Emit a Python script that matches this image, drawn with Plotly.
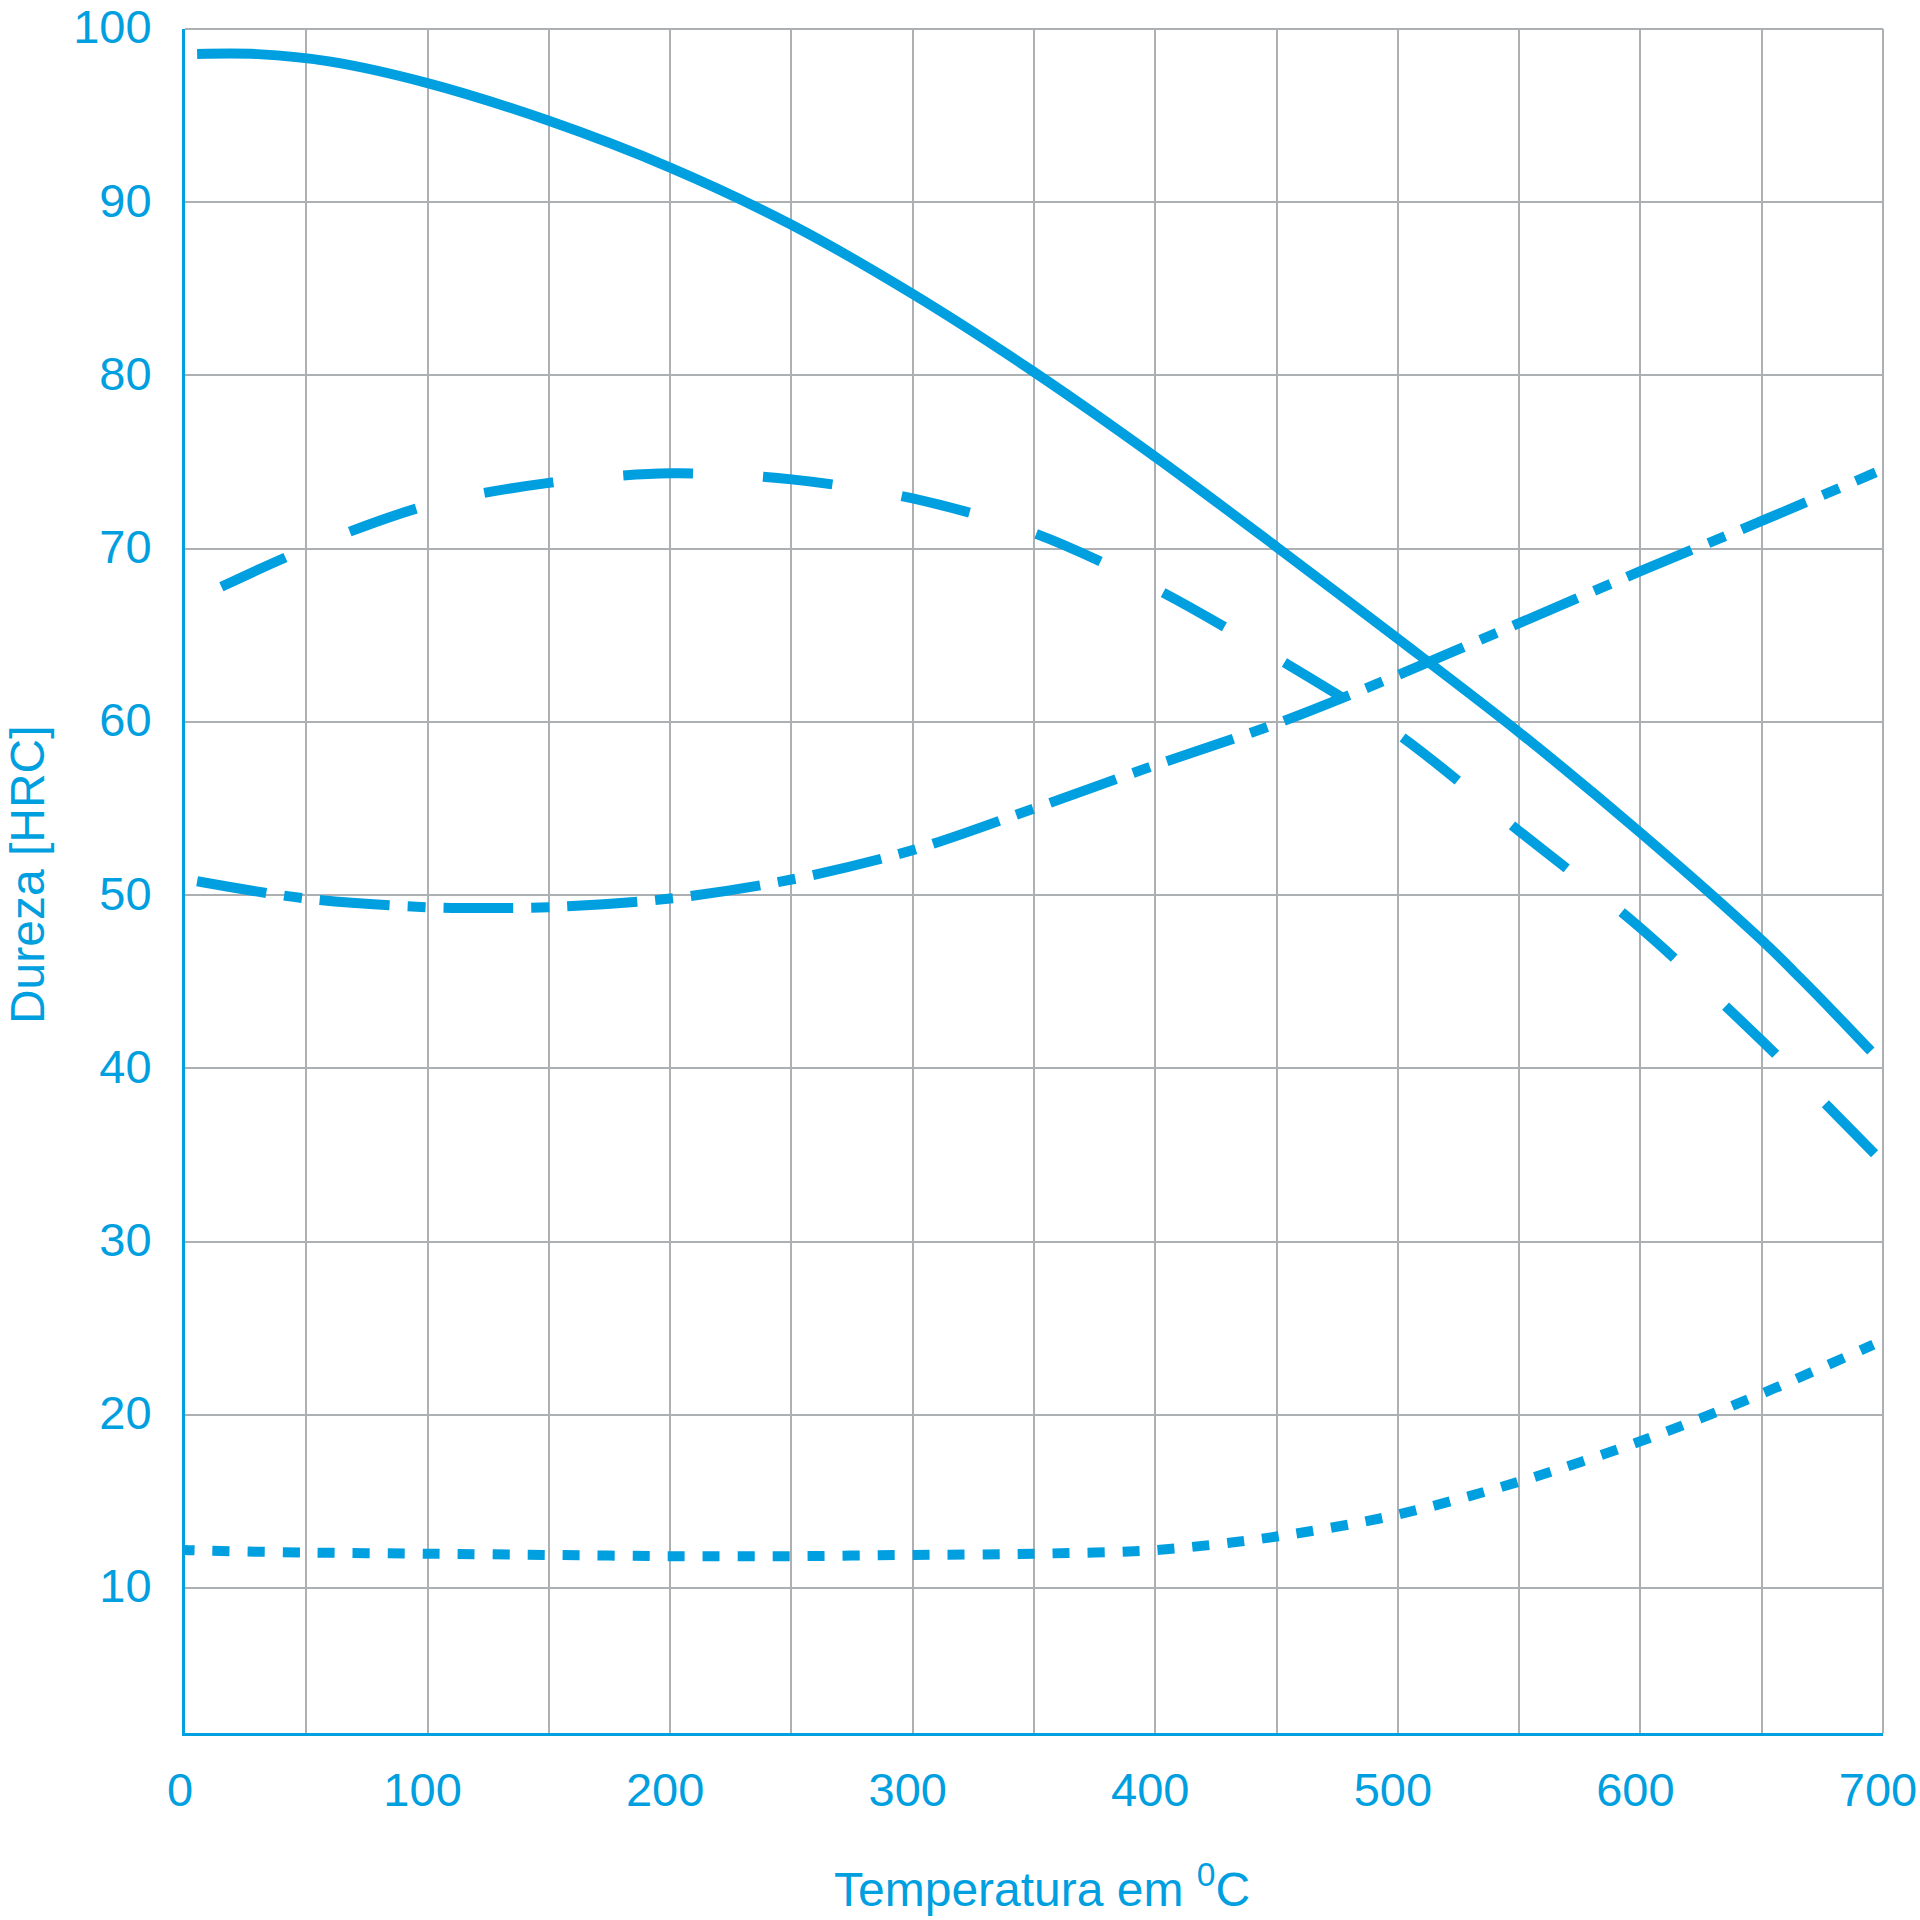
import plotly.graph_objects as go

BLUE = "#009FDF"
GRID = "#ADB0B3"
FONT = "Liberation Sans, Arial, sans-serif"

# Solid curve
solid_x = [5, 30, 60, 100, 150, 200, 250, 300, 350, 400, 450, 500, 550, 600, 650, 666, 680, 695]
solid_y = [98.56, 98.55, 98.12, 96.88, 94.7, 92.0, 88.7, 84.7, 80.2, 75.3, 70.1, 64.8, 59.4, 53.6, 47.4, 45.2, 43.2, 41.0]

# Long-dashed curve
dash_x = [15, 50, 100, 150, 200, 250, 300, 350, 400, 450, 500, 550, 600, 650, 697]
dash_y = [67.8, 70.0, 72.5, 73.8, 74.35, 74.0, 72.9, 70.9, 67.7, 63.7, 59.3, 53.7, 48.1, 41.6, 35.0]

# Dash-dot curve
dashdot_x = [5, 50, 100, 126, 150, 200, 250, 300, 350, 400, 450, 500, 550, 600, 650, 697]
dashdot_y = [50.8, 49.8, 49.3, 49.25, 49.3, 49.8, 50.9, 52.6, 55.0, 57.5, 59.9, 62.7, 65.7, 68.7, 71.6, 74.4]

# Dotted curve
dot_x = [-3, 0, 50, 100, 150, 200, 250, 300, 350, 400, 450, 500, 550, 600, 650, 696]
dot_y = [12.25, 12.2, 12.05, 11.98, 11.91, 11.84, 11.84, 11.91, 11.98, 12.19, 12.97, 14.24, 16.14, 18.47, 21.22, 24.05]

x_ticks = [0, 100, 200, 300, 400, 500, 600, 700]
y_ticks = [10, 20, 30, 40, 50, 60, 70, 80, 90, 100]

SM = 0.9
LW = 10
fig = go.Figure()
fig.add_trace(go.Scatter(x=solid_x, y=solid_y, mode="lines",
                         line=dict(color=BLUE, width=LW, shape="spline", smoothing=SM), showlegend=False))
fig.add_trace(go.Scatter(x=dash_x, y=dash_y, mode="lines",
                         line=dict(color=BLUE, width=LW, shape="spline", smoothing=SM, dash="70px,70px"), showlegend=False))
fig.add_trace(go.Scatter(x=dashdot_x, y=dashdot_y, mode="lines",
                         line=dict(color=BLUE, width=LW, shape="spline", smoothing=SM, dash="70px,18px,18px,18px"), showlegend=False))
fig.add_trace(go.Scatter(x=dot_x, y=dot_y, mode="lines",
                         line=dict(color=BLUE, width=LW, shape="spline", smoothing=SM, dash="17px,18px"), showlegend=False))

fig.update_layout(
    width=1920, height=1920, autosize=False,
    margin=dict(l=185, r=37, t=29, b=187, autoexpand=False),
    paper_bgcolor="white", plot_bgcolor="white",
    font=dict(family=FONT, color=BLUE, size=47),
    xaxis=dict(
        range=[0, 700], tickvals=x_ticks, ticks="", ticklabelstandoff=14, ticklabelshift=-5,
        ticklabeloverflow="allow", automargin=False,
        showgrid=True, gridcolor=GRID, gridwidth=2,
        minor=dict(dtick=50, tick0=0, showgrid=True, gridcolor=GRID, gridwidth=2),
        showline=True, linecolor=BLUE, linewidth=3, zeroline=False,
        tickfont=dict(size=47, color=BLUE, family=FONT),
    ),
    yaxis=dict(
        range=[1.63, 100], tickvals=y_ticks, ticks="", ticklabelstandoff=21, ticklabelshift=-2,
        ticklabeloverflow="allow", automargin=False,
        showgrid=True, gridcolor=GRID, gridwidth=2,
        showline=True, linecolor=BLUE, linewidth=3, zeroline=False,
        tickfont=dict(size=47, color=BLUE, family=FONT),
    ),
    shapes=[
        dict(type="line", xref="paper", yref="paper", x0=0, x1=1, y0=1, y1=1,
             line=dict(color=GRID, width=2), layer="below"),
        dict(type="line", xref="paper", yref="paper", x0=1, x1=1, y0=0, y1=1,
             line=dict(color=GRID, width=2), layer="below"),
    ],
    annotations=[
        dict(text="Temperatura em <sup>0</sup>C", xref="paper", yref="paper", x=0.505, y=-0.0898,
             xanchor="center", yanchor="middle", showarrow=False,
             font=dict(size=48, color=BLUE, family=FONT)),
        dict(text="Dureza [HRC]", xref="paper", yref="paper", x=-0.093, y=0.5035, textangle=-90,
             xanchor="center", yanchor="middle", showarrow=False,
             font=dict(size=48, color=BLUE, family=FONT)),
    ],
)

fig.write_html("out.html", config={"displayModeBar": False},
               post_script="document.body.style.margin='0px';document.body.style.overflow='hidden';")
